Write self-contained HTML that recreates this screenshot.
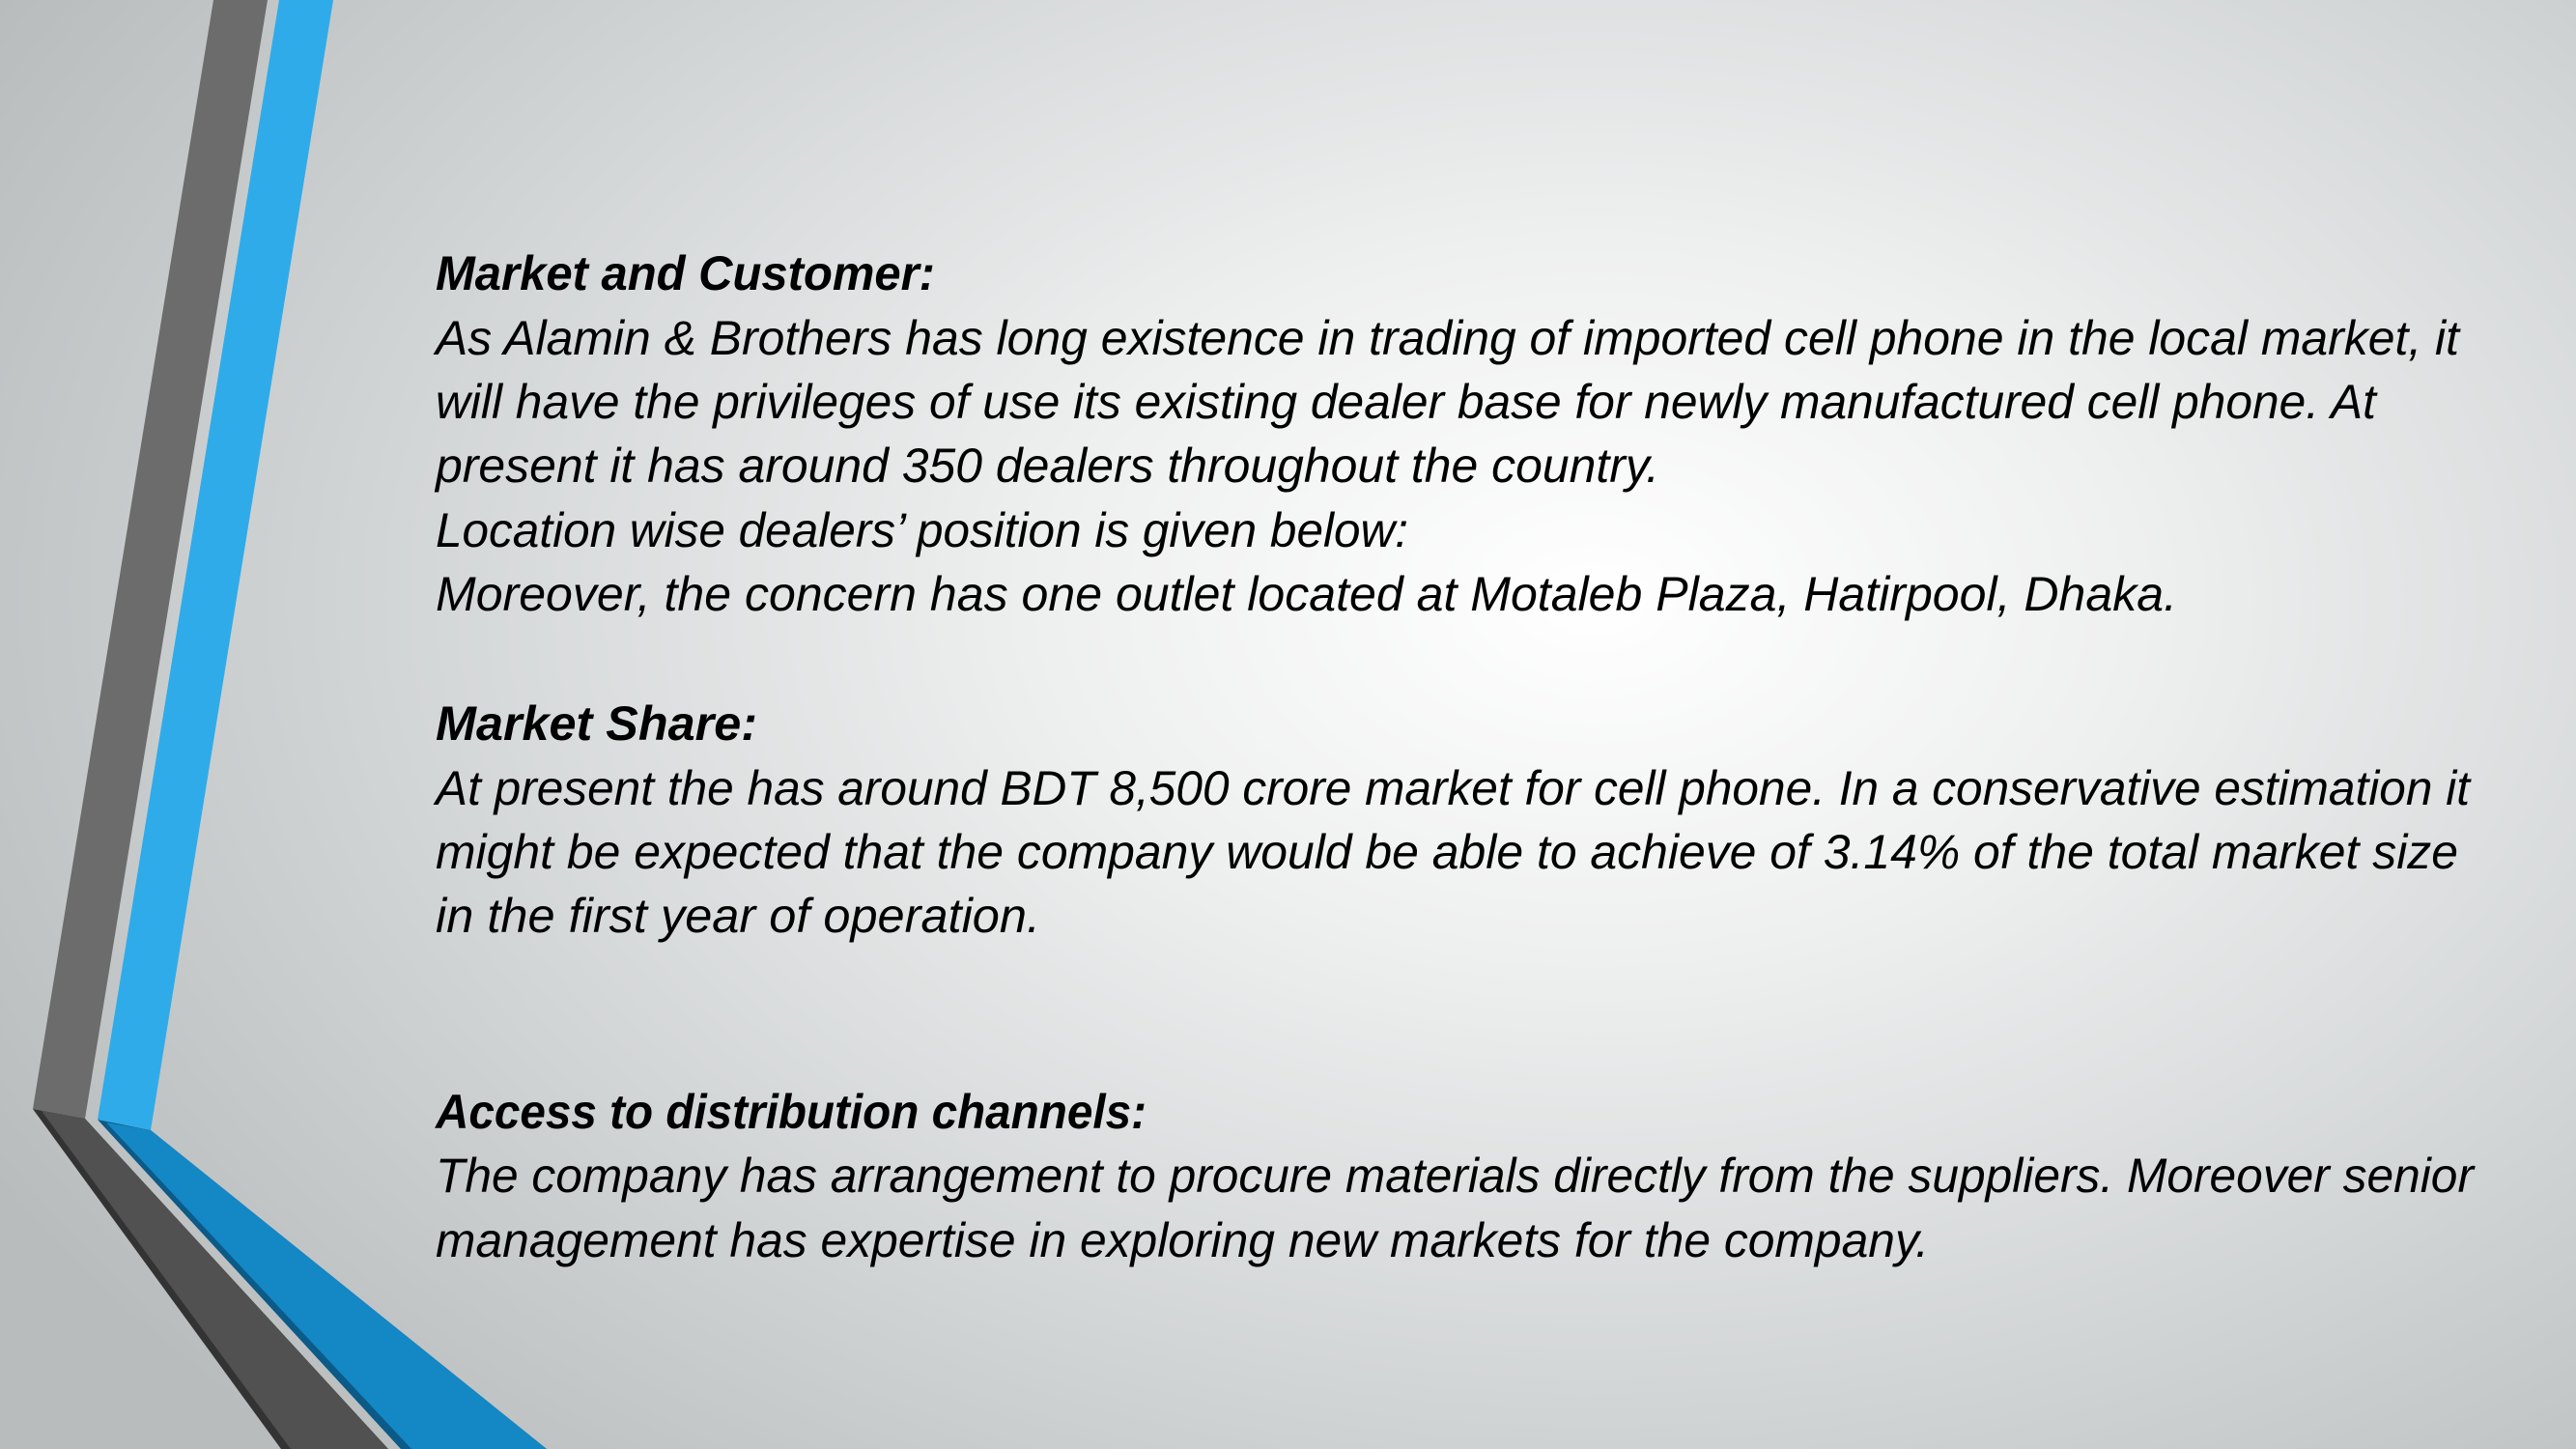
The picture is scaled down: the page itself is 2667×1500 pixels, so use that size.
<!DOCTYPE html>
<html><head><meta charset="utf-8"><style>
html,body{margin:0;padding:0}
body{width:2667px;height:1500px;overflow:hidden;position:relative;
background:radial-gradient(ellipse 1900px 1250px at 1650px 620px,#ffffff 0%,#eeefef 30%,#d3d6d7 65%,#b8bcbd 100%);}
svg{position:absolute;left:0;top:0}
text{font-family:"Liberation Sans",sans-serif;font-style:italic;font-size:50px;fill:#000}
.b{font-weight:bold}
</style></head><body>
<svg width="2667" height="1500">
<g>
<polygon points="221,0 277,0 88,1158 34,1148" fill="#6c6c6c"/>
<polygon points="34,1148 88,1158 402,1500 291,1500" fill="#333"/>
<polygon points="43,1150 88,1158 402,1500 301,1500" fill="#515151"/>
<polygon points="289,0 345,0 156,1170 101,1159" fill="#2fabea"/>
<polygon points="101,1159 156,1170 566,1500 415,1500" fill="#0b5a87"/>
<polygon points="110,1162 156,1170 566,1500 426,1500" fill="#1487c5"/>
</g>
<g>
<text class="b" x="451" y="300" textLength="517" lengthAdjust="spacingAndGlyphs">Market and Customer:</text>
<text x="451" y="367" textLength="2095" lengthAdjust="spacingAndGlyphs">As Alamin &amp; Brothers has long existence in trading of imported cell phone in the local market, it</text>
<text x="451" y="433" textLength="2009" lengthAdjust="spacingAndGlyphs">will have the privileges of use its existing dealer base for newly manufactured cell phone. At</text>
<text x="451" y="499" textLength="1267" lengthAdjust="spacingAndGlyphs">present it has around 350 dealers throughout the country.</text>
<text x="451" y="566" textLength="1007" lengthAdjust="spacingAndGlyphs">Location wise dealers’ position is given below:</text>
<text x="451" y="632" textLength="1803" lengthAdjust="spacingAndGlyphs">Moreover, the concern has one outlet located at Motaleb Plaza, Hatirpool, Dhaka.</text>
<text class="b" x="451" y="766" textLength="333" lengthAdjust="spacingAndGlyphs">Market Share:</text>
<text x="451" y="833" textLength="2106" lengthAdjust="spacingAndGlyphs">At present the has around BDT 8,500 crore market for cell phone. In a conservative estimation it</text>
<text x="451" y="899" textLength="2094" lengthAdjust="spacingAndGlyphs">might be expected that the company would be able to achieve of 3.14% of the total market size</text>
<text x="451" y="965" textLength="626" lengthAdjust="spacingAndGlyphs">in the first year of operation.</text>
<text class="b" x="451" y="1168" textLength="736" lengthAdjust="spacingAndGlyphs">Access to distribution channels:</text>
<text x="451" y="1234" textLength="2110" lengthAdjust="spacingAndGlyphs">The company has arrangement to procure materials directly from the suppliers. Moreover senior</text>
<text x="451" y="1301" textLength="1546" lengthAdjust="spacingAndGlyphs">management has expertise in exploring new markets for the company.</text>
</g>
</svg>
</body></html>
